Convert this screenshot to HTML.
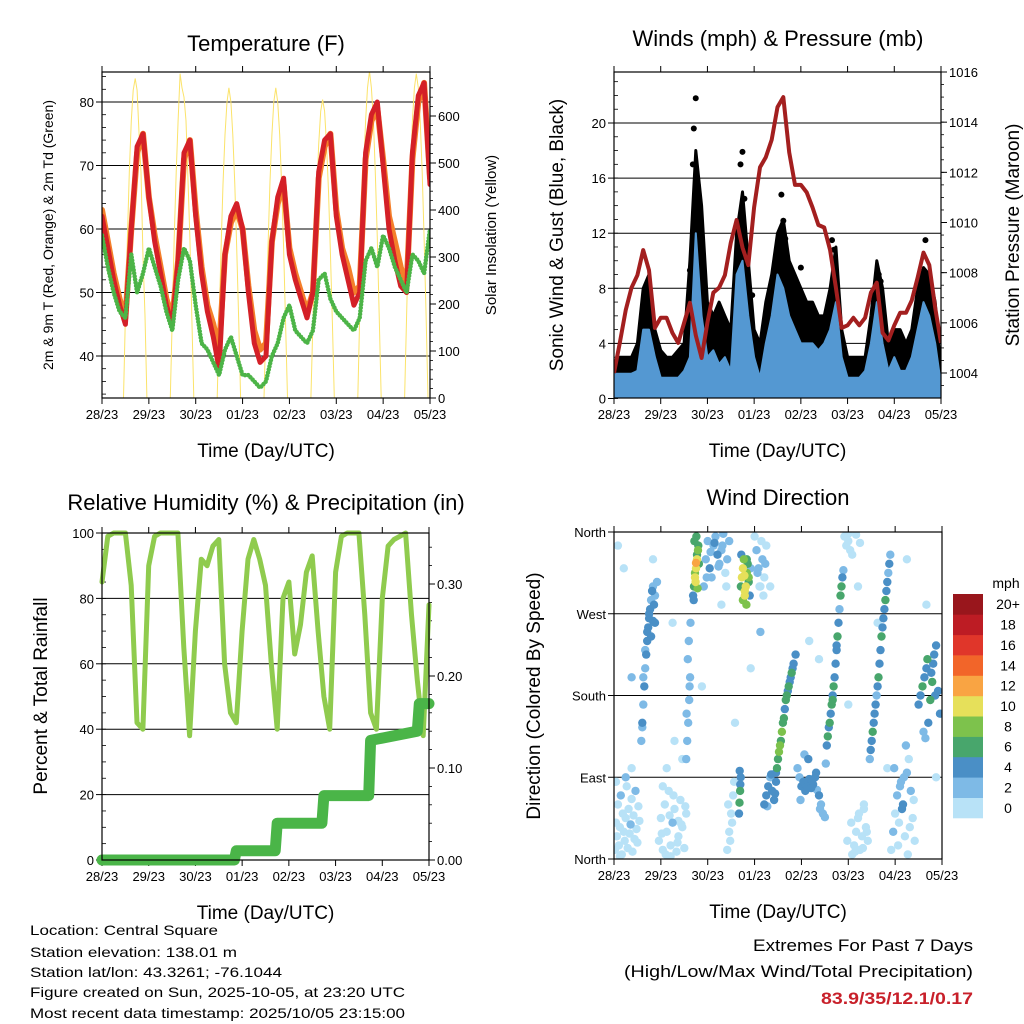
<!DOCTYPE html>
<html><head><meta charset="utf-8"><style>
html,body{margin:0;padding:0;background:#fff;}
svg{display:block;font-family:"Liberation Sans",sans-serif;}
</style></head><body>
<svg id="chart" width="1024" height="1024" viewBox="0 0 1024 1024" xmlns="http://www.w3.org/2000/svg">
<rect width="1024" height="1024" fill="#fff"/>
<g id="layer"></g>
<text x="30" y="935" font-size="14" textLength="188" lengthAdjust="spacingAndGlyphs">Location: Central Square</text>
<text x="30" y="957" font-size="14" textLength="207" lengthAdjust="spacingAndGlyphs">Station elevation: 138.01 m</text>
<text x="30" y="977" font-size="14" textLength="252" lengthAdjust="spacingAndGlyphs">Station lat/lon: 43.3261; -76.1044</text>
<text x="30" y="997" font-size="14" textLength="375" lengthAdjust="spacingAndGlyphs">Figure created on Sun, 2025-10-05, at 23:20 UTC</text>
<text x="30" y="1018" font-size="14" textLength="375" lengthAdjust="spacingAndGlyphs">Most recent data timestamp: 2025/10/05 23:15:00</text>
<text x="753" y="951" font-size="17" textLength="220" lengthAdjust="spacingAndGlyphs">Extremes For Past 7 Days</text>
<text x="624" y="977" font-size="17" textLength="349" lengthAdjust="spacingAndGlyphs">(High/Low/Max Wind/Total Precipitation)</text>
<text x="821" y="1004" font-size="17" font-weight="bold" fill="#c8202a" textLength="152" lengthAdjust="spacingAndGlyphs">83.9/35/12.1/0.17</text>
</svg>
<script>
// ---------- shared ----------
const dayLabels = ["28/23","29/23","30/23","01/23","02/23","03/23","04/23","05/23"];
const hours3 = [0,3,6,9,12,15,18,21,24,27,30,33,36,39,42,45,48,51,54,57,60,63,66,69,72,75,78,81,84,87,90,93,96,99,102,105,108,111,114,117,120,123,126,129,132,135,138,141,144,147,150,153,156,159,162,165,168];
// ---------- temperature ----------
const temp9m = [62,57,52,48,45,60,73,75,65,58,53,48,45,55,72,74,62,53,47,43,38,56,62,64,60,50,42,39,40,58,65,68,56,52,49,46,50,69,74,75,62,56,52,48,50,72,78,80,70,60,55,51,50,72,81,83,67];
const temp2m = [63,58,53,49,46,60,72,75,65,59,54,49,46,55,71,74,63,54,48,45,41,56,61,63,60,51,44,41,42,58,64,67,57,53,50,47,50,68,73,75,63,57,54,50,51,71,77,79,71,62,58,54,51,71,80,83,68];
const dewpoint = [59,54,50,47,46,56,50,53,57,54,51,47,44,52,57,55,48,42,41,39,37,41,43,40,37,37,36,35,36,40,42,46,48,44,43,42,44,52,53,49,47,46,45,44,46,55,57,54,59,57,54,52,50,56,55,53,60];
const insolation = [
0,0,0,0,0,0,0,0,0,0,0,0,175,340,480,590,655,680,655,560,480,300,175,0,
0,0,0,0,0,0,0,0,0,0,0,0,175,340,480,590,690,660,640,590,470,340,175,0,
0,0,0,0,0,0,0,0,0,0,0,0,165,320,455,560,630,660,630,560,455,320,165,0,
0,0,0,0,0,0,0,0,0,0,0,0,165,320,455,560,630,660,630,560,455,320,165,0,
0,0,0,0,0,0,0,0,0,0,0,0,160,310,440,540,610,635,610,540,440,310,160,0,
0,0,0,0,0,0,0,0,0,0,0,0,175,340,480,590,660,695,660,590,480,340,175,0,
0,0,0,0,0,0,0,0,0,0,0,0,175,340,480,590,660,690,660,590,480,340,175,0,0];
const tempTicks = [40,50,60,70,80];
const insolTicks = [0,100,200,300,400,500,600];
// ---------- winds ----------
const pressure = [1004.0,1005.2,1006.5,1007.4,1007.9,1008.9,1008.1,1005.8,1006.2,1006.2,1005.6,1005.2,1006.0,1006.8,1005.5,1004.6,1006.0,1007.2,1007.4,1007.9,1009.2,1010.1,1009.0,1008.3,1010.6,1012.2,1012.6,1013.3,1014.6,1015.0,1012.8,1011.5,1011.5,1011.2,1010.6,1009.9,1009.8,1008.9,1007.4,1005.8,1005.9,1006.2,1005.9,1006.2,1007.2,1007.6,1005.6,1005.3,1005.9,1006.4,1006.4,1006.9,1007.8,1008.8,1008.3,1006.6,1005.2];
const windSpeed = [1.8,1.8,1.8,1.8,2,5,5,3,1.5,1.5,1.5,1.5,2,3,12,6,3,3.5,2.5,3,2,9,10,6,3,1.5,4,6,9,8,6,5,4,4,4,3.5,4,5,7,3,1.5,1.5,1.5,2,4,7,4,2,3,2,2,3,5,7,6,4,1];
const windGust = [2.5,3,3,3,4,8,9,5,3.5,3,3,3.5,4,10,18,14,7,6,7,6,5,12,15,10,5,4,7,9,12,13,10,9,8,7,7,6,6,8,11,5,3,3,3,3,6,10,8,4,5,5,4,5,8,9.5,9,7,2];
const gustOutlierHours = [42,41,40.5,43,66,65,67,86,87,88,112,113,136,137,160,96,71,39];
const gustOutlierValues = [21.8,19.6,17,15.5,17.9,17,14.5,14.8,12.9,11.6,11.5,10.8,9,8.5,11.5,9.5,7.5,9.3];
const speedTicks = [0,4,8,12,16,20];
const pressureTicks = [1004,1006,1008,1010,1012,1014,1016];
// ---------- humidity ----------
const humidity = [85,99,100,100,100,84,42,40,90,99,100,100,100,100,65,38,70,92,90,96,98,60,45,42,70,92,98,92,84,60,40,80,85,63,72,88,93,70,50,40,88,99,100,100,100,75,45,40,80,96,98,99,100,75,55,38,78];
const precipHours = [0,68,69,89,90,113,114,137,138,162,163,168];
const precipTotals = [0,0,0.01,0.01,0.04,0.04,0.07,0.07,0.13,0.14,0.17,0.17];
const rhTicks = [0,20,40,60,80,100];
const rainTicks = [0,0.1,0.2,0.3];
// ---------- wind direction ----------
const dirHours = [
0.5,1,1.5,2,2.5,3,3.5,4,4.5,5,5.5,6,6.5,7,7.5,8,8.5,9,9.5,10,10.5,11,11.5,12,12.5,13,1,3,6,9,
14,14.5,15,15.5,16,16.5,17,17.5,18,18.5,19,19.5,20,20.5,21,15,16,17,18,19,20,21,22,14.5,
23,24,25,26,27,28,29,30,31,32,33,34,35,36,37,24.5,26.5,28.5,30.5,32.5,34.5,36.5,25,29,33,27,31,35,
37,37.5,38,38.5,39,37.8,38.3,39.2,38.7,37.2,
40.5,41,41.5,42,42.5,43,41.2,42.2,43.2,41.8,42.8,40.8,41.5,42.5,43.5,42,
46,47,48,49,50,51,52,53,54,55,56,57,58,59,47.5,49.5,51.5,53.5,55.5,57.5,
58,59,60,61,59.5,60.5,61.5,58.5,
64,64.3,64.6,64.9,64.4,64.7,
65,65.5,66,66.5,67,67.5,68,68.5,69,69.5,66,67,68,69,65.2,66.8,67.8,70,
72,73,74,75,76,77,78,73.5,75.5,77.5,74.5,76.5,
77,78,79,80,81,82,83,78.5,80.5,82.5,
83,83.5,84,84.5,85,85.5,86,86.5,87,87.5,88,88.5,89,89.5,90,90.5,91,91.5,92,93,
94,95,96,97,98,99,100,101,102,103,104,105,106,107,108,97.5,99.5,101.5,103.5,95.5,105.5,108.5,
109,109.5,110,110.5,111,111.5,112,112.5,113,113.5,114,114.5,115,115.5,116,116.5,117,117.5,112,114,
118,119,120,121,122,123,124,125,126,127,128,129,130,119.5,121.5,123.5,125.5,127.5,129.5,120,122,124,126,128,
131,131.5,132,132.5,133,133.5,134,134.5,135,135.5,136,136.5,137,137.5,138,138.5,139,139.5,140,140.5,141,141.5,
142,143,144,145,146,147,148,149,150,151,152,153,154,143.5,145.5,147.5,149.5,151.5,153.5,146.5,148.5,150.5,
156,157,158,159,160,161,162,163,164,165,166,167,158.5,160.5,162.5,164.5,159.5,163.5,
2,5,9,20,30,45,55,62,70,75,80,100,105,120,125,135,140,150,160,165];
const dirDegrees = [
10,40,25,60,15,35,70,5,50,30,20,45,80,12,55,28,38,66,8,48,22,75,33,18,58,42,85,3,90,100,
130,150,170,190,210,225,240,255,265,275,285,295,300,280,260,200,230,250,270,245,262,290,305,145,
20,45,10,60,30,75,15,40,55,8,25,65,35,12,50,28,5,48,70,18,38,58,80,3,42,100,130,110,
110,130,150,175,200,220,240,260,190,160,
290,300,310,320,330,340,350,355,345,305,298,285,315,335,325,326,
300,330,350,320,310,345,355,335,325,340,358,315,330,350,310,338,348,322,345,300,
10,30,50,70,20,40,85,60,
50,62,75,90,97,82,
300,310,320,330,290,300,315,325,305,290,285,295,330,310,335,312,280,320,
355,340,320,300,330,310,345,315,350,325,300,290,
60,70,80,90,75,65,85,58,93,72,
95,100,110,118,125,130,140,150,155,165,175,180,185,190,195,200,205,210,215,225,
100,90,80,85,75,80,88,78,82,90,76,70,60,50,46,115,110,86,95,65,55,105,
125,135,145,150,160,170,180,190,200,215,230,245,260,275,290,300,310,318,175,235,
355,345,358,340,5,15,30,45,10,25,55,35,20,20,40,8,50,12,30,350,335,357,348,60,
110,120,130,140,150,160,170,180,190,200,215,230,245,255,265,275,285,295,305,315,325,335,
10,30,50,70,40,85,60,25,95,110,75,45,20,100,15,55,125,35,65,80,90,5,
170,180,190,200,210,150,175,195,225,235,185,160,140,220,205,180,133,215,
345,320,200,330,260,190,280,150,210,250,300,240,220,170,300,260,100,330,280,90];
const dirSpeeds = [
1,0.5,1,1,0.5,1,2.5,1,1,0.5,1,1.5,1,0.5,1,1,3,1,0.5,1,1,2.5,1,0.5,1,1,1,0.5,2.5,1,
3,4,3,4,3,5,4,4,5,4,3,4,3,4,5,2,3,4,5,4,4,3,2,3,
1,0.5,1,1,0.5,1,1,2,1,0.5,1,1,0.5,1,1,1,0.5,1,1,1,0.5,1,1,0.5,1,1,1,1,
2,2,3,2,3,2,2,3,2,3,
4,7,10,11,10,8,7,6,7,10,9,5,8,7,6,12,
2,3,2,4,3,2,3,4,2,3,2,1,2,2,3,3,4,2,2,1,
1,1,0.5,1,1,1,1,1,
4,6,7,4,5,4,
7,10,10,8,10,11,9,7,6,5,9,10,7,8,4,10,9,3,
1,2,2,1,2,1,1,2,1,2,1,1,
4,5,4,3,4,5,4,3,4,4,
5,6,7,8,8,7,8,6,7,5,6,7,5,6,5,4,6,5,4,4,
2,3,4,5,4,5,4,5,4,4,3,4,3,2,2,3,4,5,4,2,3,2,
4,6,5,7,4,6,5,7,4,5,4,6,4,3,6,7,4,3,6,5,
1,1,0.5,1,1,0.5,1,1,0.5,1,1,1,0.5,1,1,1,1,1,1,1,1,1,1,1,
3,4,5,6,4,4,5,3,4,7,5,4,6,4,5,4,6,5,4,3,4,3,
1,2,1,3,1,2,4,1,2,1,3,1,1,2,1,4,2,1,1,3,2,1,
4,5,6,4,5,4,6,7,5,4,5,4,3,6,5,4,3,5,
1,1,2,1,1,1,1,1,1,2,1,1,1,1,1,1,1,1,1,1];
const dirTickLabels = ["North","East","South","West","North"];
const legendLabels = ["0","2","4","6","8","10","12","14","16","18","20+"];
const legendColors = ["#b8e2f7","#7ebae6","#4a8fc6","#48a66c","#7dc24c","#e6e05a","#f9a443","#f26529","#e0362a","#bd1c24","#99161c"];

// ---------- drawing ----------
const NS = "http://www.w3.org/2000/svg";
const layer = document.getElementById('layer');
function mk(tag, attrs, parent){
  const e = document.createElementNS(NS, tag);
  for (const k in attrs) e.setAttribute(k, attrs[k]);
  (parent||layer).appendChild(e);
  return e;
}
function txt(str, x, y, size, anchor, parent, extra){
  const t = mk('text', Object.assign({x:x, y:y, 'font-size':size, 'text-anchor':anchor||'start', fill:'#000'}, extra||{}), parent);
  t.textContent = str;
  return t;
}
function linScale(d0,d1,r0,r1){ return v => r0 + (v-d0)/(d1-d0)*(r1-r0); }

function panelFrame(g, P, name){
  const xs = linScale(0,168,P.x0,P.x1);
  dayLabels.forEach((lab,i)=>{
    const x = xs(i*24);
    const tk1 = mk('line',{x1:x,x2:x,y1:P.y0,y2:P.y0-6,stroke:'#000','stroke-width':1},g);
     
    const tk2 = mk('line',{x1:x,x2:x,y1:P.y1,y2:P.y1+6,stroke:'#000','stroke-width':1},g);
     
    const t = txt(lab, x, P.y1+21, 13, 'middle', g);
     
  });
  const xt = txt('Time (Day/UTC)', (P.x0+P.x1)/2, P.y1+59, 19, 'middle', g);
   
  return xs;
}
function box(g,P){
  const b = mk('rect',{x:P.x0,y:P.y0,width:P.x1-P.x0,height:P.y1-P.y0,fill:'none',stroke:'#000','stroke-width':1.2},g);
   
}
function yAxisLeft(g,P,ys,ticks,labels,grid,minorStep,dom){
  ticks.forEach((v,i)=>{
    const y = ys(v);
    if (grid && y>P.y0+1 && y<P.y1-1){
      const gl = mk('line',{x1:P.x0,x2:P.x1,y1:y,y2:y,stroke:'#000','stroke-width':1},g);
       
    }
    const tk = mk('line',{x1:P.x0,x2:P.x0-6,y1:y,y2:y,stroke:'#000'},g);
     
    const t = txt(labels[i], P.x0-8, y+5, 13, 'end', g);
     
  });
  if (minorStep){
    for (let v=Math.ceil(dom[0]/minorStep)*minorStep; v<=dom[1]; v+=minorStep){
      const y = ys(v);
      const mt = mk('line',{x1:P.x0,x2:P.x0+4,y1:y,y2:y,stroke:'#000','stroke-width':0.8},g);
       
    }
  }
}
function yAxisRight(g,P,ys,ticks,labels,minorStep,dom){
  ticks.forEach((v,i)=>{
    const y = ys(v);
    const tk = mk('line',{x1:P.x1,x2:P.x1+6,y1:y,y2:y,stroke:'#000'},g);
     
    const t = txt(labels[i], P.x1+8, y+5, 13, 'start', g);
     
  });
  if (minorStep){
    for (let v=Math.ceil(dom[0]/minorStep)*minorStep; v<=dom[1]+1e-9; v+=minorStep){
      const y = ys(v);
      const mt = mk('line',{x1:P.x1,x2:P.x1+3,y1:y,y2:y,stroke:'#000','stroke-width':0.8},g);
       
    }
  }
}
function pts(xs,ys,hx,vals){ return vals.map((v,i)=>xs(hx[i]).toFixed(1)+','+ys(v).toFixed(1)).join(' '); }
function rotText(str,x,y,size,name,g){
  const t = txt(str,0,0,size,'middle',g,{transform:'translate('+x+','+y+') rotate(-90)'});
   
}

// ===== Panel 1: Temperature =====
(function(){
  const P = {x0:102,x1:430,y0:72,y1:398};
  const g = mk('g',{});  
  const clip = mk('clipPath',{id:'c1'},g); mk('rect',{x:P.x0,y:P.y0,width:P.x1-P.x0,height:P.y1-P.y0},clip);
  const xs = panelFrame(g,P,'temperature');
  const ys = linScale(40,80,356,102);
  const ys2 = linScale(0,600,398,116);
  yAxisLeft(g,P,ys,tempTicks,tempTicks.map(String),true,2,[34,85]);
  yAxisRight(g,P,ys2,insolTicks,insolTicks.map(String),20,[0,690]);
  const d = mk('g',{'clip-path':'url(#c1)'},g);
  const insolHours = insolation.map((v,i)=>i);
  const l0 = mk('polyline',{points:pts(xs,ys2,insolHours,insolation),fill:'none',stroke:'#fbe36a','stroke-width':1},d);
   
  const l1 = mk('polyline',{points:pts(xs,ys,hours3,temp2m),fill:'none',stroke:'#f47f2a','stroke-width':6,'stroke-linejoin':'round','stroke-linecap':'round'},d);
   
  const l2 = mk('polyline',{points:pts(xs,ys,hours3,temp9m),fill:'none',stroke:'#d42027','stroke-width':5,'stroke-linejoin':'round','stroke-linecap':'round'},d);
   
  const l3 = mk('polyline',{points:pts(xs,ys,hours3,dewpoint),fill:'none',stroke:'#4cb447','stroke-width':4.5,'stroke-dasharray':'0 3.2','stroke-linecap':'round','stroke-linejoin':'round'},d);
   
  box(g,P);
  const tt = txt('Temperature (F)',266,51,22,'middle',g);  
  rotText('2m & 9m T (Red, Orange) & 2m Td (Green)',53,235,14,'temperature-y-axis-title',g);
  rotText('Solar Insolation (Yellow)',496,235,15,'insolation-y-axis-title',g);
})();

// ===== Panel 2: Winds =====
(function(){
  const P = {x0:614,x1:941,y0:72,y1:398};
  const g = mk('g',{});  
  const clip = mk('clipPath',{id:'c2'},g); mk('rect',{x:P.x0,y:P.y0,width:P.x1-P.x0,height:P.y1-P.y0},clip);
  const xs = panelFrame(g,P,'winds');
  const ys = linScale(0,20,398.5,123);
  const ys2 = linScale(1004,1016,373,72);
  yAxisLeft(g,P,ys,speedTicks,speedTicks.map(String),true,1,[0,23]);
  yAxisRight(g,P,ys2,pressureTicks,pressureTicks.map(String),0.5,[1003.1,1016]);
  const d = mk('g',{'clip-path':'url(#c2)'},g);
  const base = xs(168).toFixed(1)+','+ys(0)+' '+xs(0).toFixed(1)+','+ys(0);
  const a1 = mk('polygon',{points:pts(xs,ys,hours3,windGust)+' '+base,fill:'#000',stroke:'#000','stroke-width':3,'stroke-linejoin':'round'},d);
   
  gustOutlierHours.forEach((h,i)=>{
    const c = mk('circle',{cx:xs(h),cy:ys(gustOutlierValues[i]),r:3,fill:'#000'},d);
     
  });
  const a2 = mk('polygon',{points:pts(xs,ys,hours3,windSpeed)+' '+base,fill:'#5498d2',stroke:'#5498d2','stroke-width':2,'stroke-linejoin':'round'},d);
   
  const l = mk('polyline',{points:pts(xs,ys2,hours3,pressure),fill:'none',stroke:'#a31f1f','stroke-width':4,'stroke-linejoin':'round'},d);
   
  box(g,P);
  const tt = txt('Winds (mph) & Pressure (mb)',778,46,22,'middle',g);  
  rotText('Sonic Wind & Gust (Blue, Black)',563,235,19,'wind-y-axis-title',g);
  rotText('Station Pressure (Maroon)',1019,235,19,'pressure-y-axis-title',g);
})();

// ===== Panel 3: Humidity =====
(function(){
  const P = {x0:102,x1:429,y0:533,y1:860};
  const g = mk('g',{});  
  const clip = mk('clipPath',{id:'c3'},g); mk('rect',{x:P.x0-8,y:P.y0-8,width:P.x1-P.x0+16,height:P.y1-P.y0+16},clip);
  const xs = panelFrame(g,P,'humidity');
  const ys = linScale(0,100,860,533);
  const ys2 = linScale(0,0.1,860,768);
  yAxisLeft(g,P,ys,rhTicks,rhTicks.map(String),true,5,[0,100]);
  yAxisRight(g,P,ys2,rainTicks,rainTicks.map(v=>v.toFixed(2)),0.02,[0,0.35]);
  const d = mk('g',{'clip-path':'url(#c3)'},g);
  const l = mk('polyline',{points:pts(xs,ys,hours3,humidity),fill:'none',stroke:'#8fcb4e','stroke-width':5,'stroke-linejoin':'round','stroke-linecap':'round'},d);
   
  const p = mk('polyline',{points:pts(xs,ys2,precipHours,precipTotals),fill:'none',stroke:'#4ab548','stroke-width':11,'stroke-linejoin':'round','stroke-linecap':'round'},d);
   
  box(g,P);
  const tt = txt('Relative Humidity (%) & Precipitation (in)',266,510,22,'middle',g);  
  rotText('Percent & Total Rainfall',47,696,19,'humidity-y-axis-title',g);
})();

// ===== Panel 4: Wind direction =====
(function(){
  const P = {x0:614,x1:942,y0:532,y1:859};
  const g = mk('g',{});  
  const clip = mk('clipPath',{id:'c4'},g); mk('rect',{x:P.x0,y:P.y0,width:P.x1-P.x0,height:P.y1-P.y0},clip);
  const xs = panelFrame(g,P,'direction');
  const ys = linScale(0,360,859,532);
  yAxisLeft(g,P,ys,[0,90,180,270,360],dirTickLabels,true,0,null);
  const d = mk('g',{'clip-path':'url(#c4)'},g);
  const n = Math.min(dirHours.length, dirDegrees.length, dirSpeeds.length);
  const order = [];
  for (let i=0;i<n;i++) order.push(i);
  order.sort((a,b)=>dirSpeeds[a]-dirSpeeds[b]);
  order.forEach(i=>{
    const bin = Math.max(0, Math.min(10, Math.floor(dirSpeeds[i]/2)));
    const c = mk('circle',{cx:xs(dirHours[i]).toFixed(1),cy:ys(dirDegrees[i]).toFixed(1),r:4.2,fill:legendColors[bin]},d);
     
  });
  box(g,P);
  const tt = txt('Wind Direction',778,505,22,'middle',g);  
  rotText('Direction (Colored By Speed)',540,696,19,'direction-y-axis-title',g);
  const lg = mk('g',{},g);  
  const lt = txt('mph',1006,588,14,'middle',lg);  
  const h = 224/legendLabels.length;
  legendLabels.forEach((lab,i)=>{
    const y = 818 - (i+1)*h;
    const r = mk('rect',{x:953,y:y.toFixed(1),width:30,height:(h+0.3).toFixed(1),fill:legendColors[i]},lg);
     
    const t = txt(lab,1008,y+h/2+5,14,'middle',lg);
     
  });
})();
</script>
</body></html>
